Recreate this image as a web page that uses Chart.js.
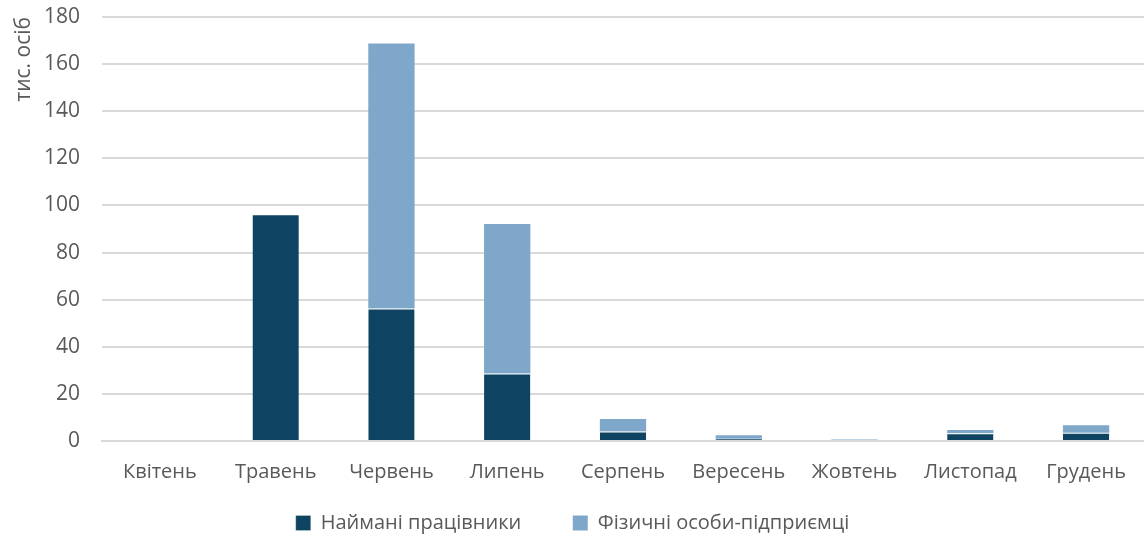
<!DOCTYPE html>
<html>
<head>
<meta charset="utf-8">
<script src="https://cdn.jsdelivr.net/npm/chart.js@4"></script>
<style>
  html, body { margin: 0; padding: 0; background: #fff; }
  #wrap { width: 1145px; height: 538px; position: relative; }
</style>
</head>
<body>
<div id="wrap"><canvas id="grafico"></canvas></div>
<script>
// Дані (тис. осіб)
const misyatsi = ["Квітень", "Травень", "Червень", "Липень", "Серпень", "Вересень", "Жовтень", "Листопад", "Грудень"];
const naimani = [0, 96.3, 56.3, 28.7, 4.0, 1.0, 0, 3.3, 3.5];
const fop = [0.4, 0, 112.4, 63.4, 5.3, 1.4, 0.6, 1.4, 3.2];
const yTicks = [0, 20, 40, 60, 80, 100, 120, 140, 160, 180];

const sirij = "#595959";
const shrift = "'Open Sans', 'Noto Sans', sans-serif";

const ctx = document.getElementById("grafico").getContext("2d");
new Chart(ctx, {
  type: "bar",
  data: {
    labels: misyatsi,
    datasets: [
      {
        label: "Наймані працівники",
        data: naimani,
        backgroundColor: "#0E4461",
        borderColor: "#ffffff",
        borderWidth: { top: 1, left: 0, right: 0, bottom: 0 },
        categoryPercentage: 1,
        barPercentage: 0.4
      },
      {
        label: "Фізичні особи-підприємці",
        data: fop,
        backgroundColor: "#7FA7C9",
        borderWidth: 0,
        categoryPercentage: 1,
        barPercentage: 0.4
      }
    ]
  },
  options: {
    responsive: true,
    maintainAspectRatio: false,
    animation: false,
    layout: { padding: { top: 17, right: 0, left: 0, bottom: -5 } },
    plugins: {
      legend: {
        position: "bottom",
        labels: {
          color: sirij,
          font: { size: 20, family: shrift },
          boxWidth: 15,
          boxHeight: 15,
          padding: 10,
          // трохи більший проміжок між елементами легенди
          generateLabels: chart => {
            const items = Chart.defaults.plugins.legend.labels.generateLabels(chart);
            items[0].text += "        ";
            return items;
          }
        }
      },
      tooltip: { enabled: false }
    },
    scales: {
      x: {
        stacked: true,
        grid: { display: false, drawTicks: false },
        border: { color: "#D9D9D9", width: 2 },
        ticks: { color: sirij, font: { size: 20, family: shrift }, padding: 19 }
      },
      y: {
        stacked: true,
        min: 0,
        max: 180,
        afterBuildTicks: axis => { axis.ticks = yTicks.map(v => ({ value: v })); },
        afterFit: axis => { axis.paddingTop = 0; axis.width = 102; },
        grid: { color: "#D9D9D9", lineWidth: 2, drawTicks: false },
        border: { display: false },
        ticks: { color: sirij, font: { size: 21, family: shrift }, padding: 22 },
        title: {
          display: true,
          text: "тис. осіб",
          align: "end",
          color: sirij,
          font: { size: 21, family: shrift },
          padding: { top: 11, bottom: 0 }
        }
      }
    }
  }
});
</script>
</body>
</html>
